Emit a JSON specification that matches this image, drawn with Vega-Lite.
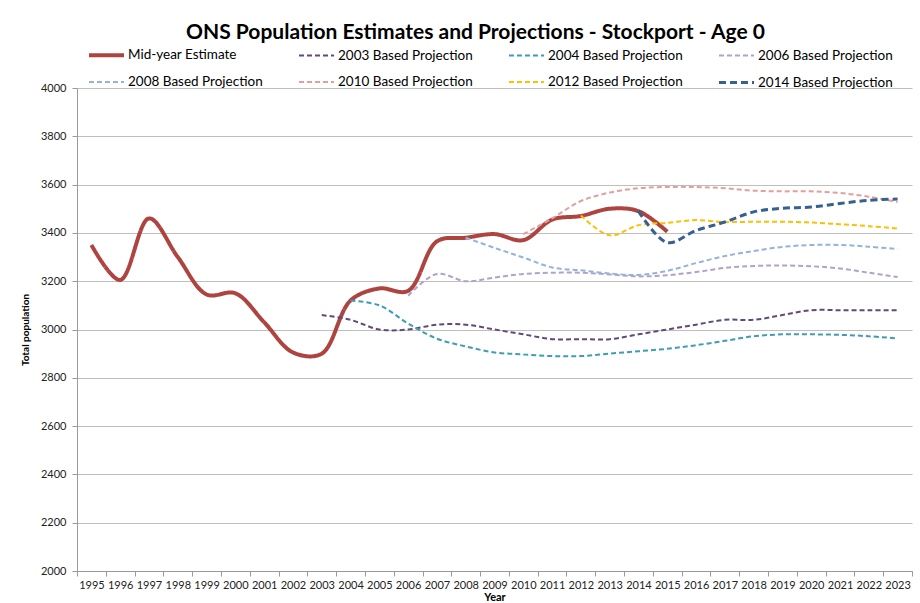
{
  "$schema": "https://vega.github.io/schema/vega-lite/v6.json",
  "autosize": {"type": "none"},
  "width": 835,
  "height": 483,
  "padding": {"left": 77, "top": 88, "right": 8, "bottom": 32},
  "background": "white",
  "config": {
    "font": "Lato",
    "view": {"stroke": null}
  },
  "title": {
    "text": "ONS Population Estimates and Projections - Stockport - Age 0",
    "fontSize": 21,
    "fontWeight": "bold",
    "color": "#000000",
    "anchor": "middle",
    "dx": -19,
    "offset": -7
  },
  "data": {
    "values": [
      {"year": "1995", "series": "Mid-year Estimate", "value": 3350},
      {"year": "1996", "series": "Mid-year Estimate", "value": 3205},
      {"year": "1997", "series": "Mid-year Estimate", "value": 3460},
      {"year": "1998", "series": "Mid-year Estimate", "value": 3300},
      {"year": "1999", "series": "Mid-year Estimate", "value": 3145},
      {"year": "2000", "series": "Mid-year Estimate", "value": 3150},
      {"year": "2001", "series": "Mid-year Estimate", "value": 3030},
      {"year": "2002", "series": "Mid-year Estimate", "value": 2905},
      {"year": "2003", "series": "Mid-year Estimate", "value": 2900},
      {"year": "2004", "series": "Mid-year Estimate", "value": 3120},
      {"year": "2005", "series": "Mid-year Estimate", "value": 3170},
      {"year": "2006", "series": "Mid-year Estimate", "value": 3160},
      {"year": "2007", "series": "Mid-year Estimate", "value": 3365},
      {"year": "2008", "series": "Mid-year Estimate", "value": 3380},
      {"year": "2009", "series": "Mid-year Estimate", "value": 3395},
      {"year": "2010", "series": "Mid-year Estimate", "value": 3370},
      {"year": "2011", "series": "Mid-year Estimate", "value": 3455},
      {"year": "2012", "series": "Mid-year Estimate", "value": 3470},
      {"year": "2013", "series": "Mid-year Estimate", "value": 3500},
      {"year": "2014", "series": "Mid-year Estimate", "value": 3490},
      {"year": "2015", "series": "Mid-year Estimate", "value": 3405},

      {"year": "2003", "series": "2003 Based Projection", "value": 3060},
      {"year": "2004", "series": "2003 Based Projection", "value": 3040},
      {"year": "2005", "series": "2003 Based Projection", "value": 3000},
      {"year": "2006", "series": "2003 Based Projection", "value": 3000},
      {"year": "2007", "series": "2003 Based Projection", "value": 3020},
      {"year": "2008", "series": "2003 Based Projection", "value": 3020},
      {"year": "2009", "series": "2003 Based Projection", "value": 3000},
      {"year": "2010", "series": "2003 Based Projection", "value": 2980},
      {"year": "2011", "series": "2003 Based Projection", "value": 2960},
      {"year": "2012", "series": "2003 Based Projection", "value": 2960},
      {"year": "2013", "series": "2003 Based Projection", "value": 2960},
      {"year": "2014", "series": "2003 Based Projection", "value": 2980},
      {"year": "2015", "series": "2003 Based Projection", "value": 3000},
      {"year": "2016", "series": "2003 Based Projection", "value": 3020},
      {"year": "2017", "series": "2003 Based Projection", "value": 3040},
      {"year": "2018", "series": "2003 Based Projection", "value": 3040},
      {"year": "2019", "series": "2003 Based Projection", "value": 3060},
      {"year": "2020", "series": "2003 Based Projection", "value": 3080},
      {"year": "2021", "series": "2003 Based Projection", "value": 3080},
      {"year": "2022", "series": "2003 Based Projection", "value": 3080},
      {"year": "2023", "series": "2003 Based Projection", "value": 3080},

      {"year": "2004", "series": "2004 Based Projection", "value": 3120},
      {"year": "2005", "series": "2004 Based Projection", "value": 3100},
      {"year": "2006", "series": "2004 Based Projection", "value": 3025},
      {"year": "2007", "series": "2004 Based Projection", "value": 2962},
      {"year": "2008", "series": "2004 Based Projection", "value": 2930},
      {"year": "2009", "series": "2004 Based Projection", "value": 2905},
      {"year": "2010", "series": "2004 Based Projection", "value": 2897},
      {"year": "2011", "series": "2004 Based Projection", "value": 2890},
      {"year": "2012", "series": "2004 Based Projection", "value": 2890},
      {"year": "2013", "series": "2004 Based Projection", "value": 2900},
      {"year": "2014", "series": "2004 Based Projection", "value": 2910},
      {"year": "2015", "series": "2004 Based Projection", "value": 2920},
      {"year": "2016", "series": "2004 Based Projection", "value": 2935},
      {"year": "2017", "series": "2004 Based Projection", "value": 2953},
      {"year": "2018", "series": "2004 Based Projection", "value": 2972},
      {"year": "2019", "series": "2004 Based Projection", "value": 2980},
      {"year": "2020", "series": "2004 Based Projection", "value": 2980},
      {"year": "2021", "series": "2004 Based Projection", "value": 2978},
      {"year": "2022", "series": "2004 Based Projection", "value": 2972},
      {"year": "2023", "series": "2004 Based Projection", "value": 2963},

      {"year": "2006", "series": "2006 Based Projection", "value": 3140},
      {"year": "2007", "series": "2006 Based Projection", "value": 3230},
      {"year": "2008", "series": "2006 Based Projection", "value": 3200},
      {"year": "2009", "series": "2006 Based Projection", "value": 3215},
      {"year": "2010", "series": "2006 Based Projection", "value": 3230},
      {"year": "2011", "series": "2006 Based Projection", "value": 3235},
      {"year": "2012", "series": "2006 Based Projection", "value": 3235},
      {"year": "2013", "series": "2006 Based Projection", "value": 3228},
      {"year": "2014", "series": "2006 Based Projection", "value": 3220},
      {"year": "2015", "series": "2006 Based Projection", "value": 3225},
      {"year": "2016", "series": "2006 Based Projection", "value": 3238},
      {"year": "2017", "series": "2006 Based Projection", "value": 3255},
      {"year": "2018", "series": "2006 Based Projection", "value": 3263},
      {"year": "2019", "series": "2006 Based Projection", "value": 3265},
      {"year": "2020", "series": "2006 Based Projection", "value": 3262},
      {"year": "2021", "series": "2006 Based Projection", "value": 3253},
      {"year": "2022", "series": "2006 Based Projection", "value": 3235},
      {"year": "2023", "series": "2006 Based Projection", "value": 3217},

      {"year": "2008", "series": "2008 Based Projection", "value": 3380},
      {"year": "2009", "series": "2008 Based Projection", "value": 3338},
      {"year": "2010", "series": "2008 Based Projection", "value": 3298},
      {"year": "2011", "series": "2008 Based Projection", "value": 3257},
      {"year": "2012", "series": "2008 Based Projection", "value": 3245},
      {"year": "2013", "series": "2008 Based Projection", "value": 3232},
      {"year": "2014", "series": "2008 Based Projection", "value": 3226},
      {"year": "2015", "series": "2008 Based Projection", "value": 3243},
      {"year": "2016", "series": "2008 Based Projection", "value": 3275},
      {"year": "2017", "series": "2008 Based Projection", "value": 3304},
      {"year": "2018", "series": "2008 Based Projection", "value": 3325},
      {"year": "2019", "series": "2008 Based Projection", "value": 3342},
      {"year": "2020", "series": "2008 Based Projection", "value": 3350},
      {"year": "2021", "series": "2008 Based Projection", "value": 3350},
      {"year": "2022", "series": "2008 Based Projection", "value": 3343},
      {"year": "2023", "series": "2008 Based Projection", "value": 3333},

      {"year": "2010", "series": "2010 Based Projection", "value": 3395},
      {"year": "2011", "series": "2010 Based Projection", "value": 3460},
      {"year": "2012", "series": "2010 Based Projection", "value": 3532},
      {"year": "2013", "series": "2010 Based Projection", "value": 3567},
      {"year": "2014", "series": "2010 Based Projection", "value": 3585},
      {"year": "2015", "series": "2010 Based Projection", "value": 3590},
      {"year": "2016", "series": "2010 Based Projection", "value": 3590},
      {"year": "2017", "series": "2010 Based Projection", "value": 3585},
      {"year": "2018", "series": "2010 Based Projection", "value": 3575},
      {"year": "2019", "series": "2010 Based Projection", "value": 3572},
      {"year": "2020", "series": "2010 Based Projection", "value": 3572},
      {"year": "2021", "series": "2010 Based Projection", "value": 3565},
      {"year": "2022", "series": "2010 Based Projection", "value": 3550},
      {"year": "2023", "series": "2010 Based Projection", "value": 3528},

      {"year": "2012", "series": "2012 Based Projection", "value": 3472},
      {"year": "2013", "series": "2012 Based Projection", "value": 3390},
      {"year": "2014", "series": "2012 Based Projection", "value": 3432},
      {"year": "2015", "series": "2012 Based Projection", "value": 3442},
      {"year": "2016", "series": "2012 Based Projection", "value": 3453},
      {"year": "2017", "series": "2012 Based Projection", "value": 3445},
      {"year": "2018", "series": "2012 Based Projection", "value": 3446},
      {"year": "2019", "series": "2012 Based Projection", "value": 3446},
      {"year": "2020", "series": "2012 Based Projection", "value": 3443},
      {"year": "2021", "series": "2012 Based Projection", "value": 3436},
      {"year": "2022", "series": "2012 Based Projection", "value": 3428},
      {"year": "2023", "series": "2012 Based Projection", "value": 3418},

      {"year": "2014", "series": "2014 Based Projection", "value": 3490},
      {"year": "2015", "series": "2014 Based Projection", "value": 3360},
      {"year": "2016", "series": "2014 Based Projection", "value": 3410},
      {"year": "2017", "series": "2014 Based Projection", "value": 3445},
      {"year": "2018", "series": "2014 Based Projection", "value": 3487},
      {"year": "2019", "series": "2014 Based Projection", "value": 3502},
      {"year": "2020", "series": "2014 Based Projection", "value": 3507},
      {"year": "2021", "series": "2014 Based Projection", "value": 3522},
      {"year": "2022", "series": "2014 Based Projection", "value": 3535},
      {"year": "2023", "series": "2014 Based Projection", "value": 3540}
    ]
  },
  "mark": {"type": "line", "interpolate": "catmull-rom", "strokeCap": "butt"},
  "encoding": {
    "x": {
      "field": "year",
      "type": "ordinal",
      "sort": "ascending",
      "scale": {"type": "band", "paddingInner": 0, "paddingOuter": 0},
      "axis": {
        "title": "Year",
        "titleFontSize": 11,
        "titleFontWeight": "bold",
        "titleColor": "#000000",
        "titlePadding": 1,
        "labelAngle": 0,
        "labelFontSize": 11,
        "labelColor": "#222222",
        "labelOverlap": false,
        "labelPadding": 3,
        "tickBand": "extent",
        "tickSize": 5,
        "tickColor": "#9A9A9A",
        "domainColor": "#9A9A9A",
        "grid": false
      }
    },
    "y": {
      "field": "value",
      "type": "quantitative",
      "scale": {"domain": [2000, 4000], "nice": false, "zero": false},
      "axis": {
        "title": "Total population",
        "titleFontSize": 10,
        "titleFontWeight": "bold",
        "titleColor": "#000000",
        "titlePadding": 10,
        "values": [2000, 2200, 2400, 2600, 2800, 3000, 3200, 3400, 3600, 3800, 4000],
        "format": "d",
        "labelFontSize": 11,
        "labelColor": "#222222",
        "labelPadding": 6,
        "tickSize": 5,
        "tickColor": "#9A9A9A",
        "domainColor": "#9A9A9A",
        "gridColor": "#BFBFBF",
        "gridWidth": 1
      }
    },
    "color": {
      "field": "series",
      "type": "nominal",
      "scale": {
        "domain": ["Mid-year Estimate", "2003 Based Projection", "2004 Based Projection", "2006 Based Projection", "2008 Based Projection", "2010 Based Projection", "2012 Based Projection", "2014 Based Projection"],
        "range": ["#AE4440", "#604A7B", "#3F9DB3", "#B3A2C7", "#95B3D7", "#E0A09E", "#FFC000", "#376092"]
      },
      "legend": {
        "title": null,
        "orient": "none",
        "legendX": 10,
        "legendY": -52.5,
        "direction": "horizontal",
        "columns": 4,
        "columnPadding": 30,
        "rowPadding": -17,
        "symbolType": "stroke",
        "symbolSize": 1225,
        "labelFontSize": 13.5,
        "labelColor": "#000000",
        "labelOffset": 2,
        "gridAlign": "all",
        "labelLimit": 200
      }
    },
    "strokeDash": {
      "field": "series",
      "type": "nominal",
      "scale": {
        "domain": ["Mid-year Estimate", "2003 Based Projection", "2004 Based Projection", "2006 Based Projection", "2008 Based Projection", "2010 Based Projection", "2012 Based Projection", "2014 Based Projection"],
        "range": [[1, 0], [5, 3], [5, 3], [5, 3], [5, 3], [5, 3], [5, 3], [7, 4]]
      },
      "legend": null
    },
    "strokeWidth": {
      "field": "series",
      "type": "nominal",
      "scale": {
        "type": "ordinal",
        "domain": ["Mid-year Estimate", "2003 Based Projection", "2004 Based Projection", "2006 Based Projection", "2008 Based Projection", "2010 Based Projection", "2012 Based Projection", "2014 Based Projection"],
        "range": [4, 2, 2, 2, 2, 2, 2, 3]
      },
      "legend": null
    }
  }
}
